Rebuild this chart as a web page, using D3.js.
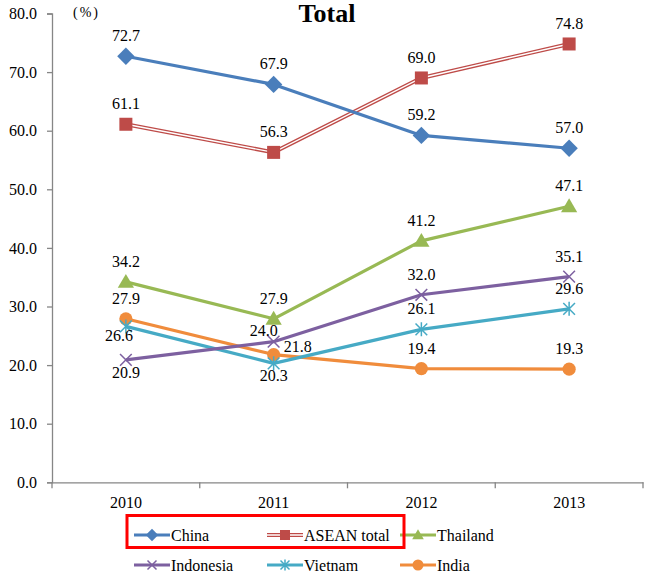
<!DOCTYPE html>
<html><head><meta charset="utf-8">
<script src="https://cdn.jsdelivr.net/npm/d3@7"></script>
<style>
html,body{margin:0;padding:0;background:#fff;}
svg{display:block;}
svg text{font-family:"Liberation Serif","Times New Roman",serif !important;fill:#000;}
</style></head>
<body>
<svg id="c" width="653" height="577" font-family="Liberation Serif"></svg>
<script>
const years = ["2010","2011","2012","2013"];
const yTicks = [0,10,20,30,40,50,60,70,80];
const china     = [72.7, 67.9, 59.2, 57.0];
const asean     = [61.1, 56.3, 69.0, 74.8];
const thailand  = [34.2, 27.9, 41.2, 47.1];
const indonesia = [20.9, 24.0, 32.0, 35.1];
const vietnam   = [26.6, 20.3, 26.1, 29.6];
const india     = [27.9, 21.8, 19.4, 19.3];
const seriesNames = ["China","ASEAN total","Thailand","Indonesia","Vietnam","India"];
const seriesValues = [china, asean, thailand, indonesia, vietnam, india];
// label placement codes: a=above, b=below, r=right, l=above-left, s=slightly below
const labelPos = [
  ["a","a","a","a"],
  ["a","a","a","a"],
  ["a","a","a","a"],
  ["b","l","a","a"],
  ["s","b","a","a"],
  ["a","r","a","a"]
];
const colors = ["#4A7EBB","#BE4B48","#98B954","#7D60A0","#46AAC5","#F08C3C"];
const markers = ["diamond","square","triangle","x","star","circle"];

const svg = d3.select("#c");
const mLeft = 52, mRight = 643, mTop = 13.5, mBottom = 482.3;
const x = d3.scaleBand().domain(years).range([mLeft, mRight]);
const y = d3.scaleLinear().domain([0,80]).range([mBottom, mTop]);
const axisColor = "#868686";

// Y axis
const ya = svg.append("g").attr("transform",`translate(${mLeft},0)`)
  .call(d3.axisLeft(y).tickValues(yTicks).tickSize(5).tickPadding(10).tickFormat(d3.format(".1f")));
ya.attr("font-family","Liberation Serif").attr("font-size",16);
ya.select(".domain").attr("stroke",axisColor).attr("stroke-width",1.3);
ya.selectAll(".tick line").attr("stroke",axisColor).attr("stroke-width",1.3);
ya.selectAll(".tick text").style("font-size","16px");

// X axis
const xa = svg.append("g").attr("transform",`translate(0,${mBottom})`)
  .call(d3.axisBottom(x).tickSize(0).tickPadding(14));
xa.attr("font-family","Liberation Serif").attr("font-size",16);
xa.select(".domain").attr("stroke",axisColor).attr("stroke-width",1.3);
xa.selectAll(".tick text").style("font-size","16px");
const bounds = [mLeft].concat(years.map(d => x(d) + x.bandwidth()));
svg.append("g").selectAll("line").data(bounds).join("line")
  .attr("x1",d=>d).attr("x2",d=>d).attr("y1",mBottom).attr("y2",mBottom+6)
  .attr("stroke",axisColor).attr("stroke-width",1.3);

// title and unit
svg.append("text").attr("x",327).attr("y",22).attr("text-anchor","middle")
  .style("font-size","26px").style("font-weight","bold").text("Total");
svg.append("text").attr("x",73).attr("y",17).style("font-size","14px")
  .style("letter-spacing","2px").text("(%)");

const cx = d => x(d) + x.bandwidth()/2;

function drawMarker(g, type, px, py, color, s) {
  if (type === "diamond") {
    g.append("path").attr("d",`M${px},${py-s*0.62}L${px+s*0.62},${py}L${px},${py+s*0.62}L${px-s*0.62},${py}Z`).attr("fill",color);
  } else if (type === "square") {
    g.append("rect").attr("x",px-s/2).attr("y",py-s/2).attr("width",s).attr("height",s).attr("fill",color);
  } else if (type === "triangle") {
    const h = s*0.95;
    g.append("path").attr("d",`M${px},${py-h*0.6}L${px+s*0.58},${py+h*0.45}L${px-s*0.58},${py+h*0.45}Z`).attr("fill",color);
  } else if (type === "x") {
    const r = s*0.45;
    g.append("path").attr("d",`M${px-r},${py-r}L${px+r},${py+r}M${px-r},${py+r}L${px+r},${py-r}`).attr("stroke",color).attr("stroke-width",1.5).attr("fill","none");
  } else if (type === "star") {
    const r = s*0.45;
    g.append("path").attr("d",`M${px-r},${py-r}L${px+r},${py+r}M${px-r},${py+r}L${px+r},${py-r}M${px},${py-r*1.2}L${px},${py+r*1.2}`).attr("stroke",color).attr("stroke-width",1.5).attr("fill","none");
  } else if (type === "circle") {
    g.append("circle").attr("cx",px).attr("cy",py).attr("r",s*0.55).attr("fill",color);
  }
}

const line = d3.line().x((d,i)=>cx(years[i])).y(d=>y(d));
const markerSize = [14, 13, 14, 13, 13, 12];

const order = [5,4,3,2,1,0];
const plot = svg.append("g");
order.forEach(k => {
  const vals = seriesValues[k];
  const g = plot.append("g");
  if (k === 1) {
    g.append("path").attr("d",line(vals)).attr("fill","none").attr("stroke",colors[k]).attr("stroke-width",4);
    g.append("path").attr("d",line(vals)).attr("fill","none").attr("stroke","#fff").attr("stroke-width",1.4);
  } else {
    g.append("path").attr("d",line(vals)).attr("fill","none").attr("stroke",colors[k]).attr("stroke-width",3.2).attr("stroke-linejoin","round");
  }
  vals.forEach((v,i) => drawMarker(g, markers[k], cx(years[i]), y(v), colors[k], markerSize[k]));
});

// labels
const labels = svg.append("g");
seriesValues.forEach((vals,k) => {
  vals.forEach((v,i) => {
    const p = labelPos[k][i];
    let px = cx(years[i]), py = y(v);
    let tx = px, ty = py - 15, anchor = "middle";
    if (p === "b") { ty = py + 18; }
    if (p === "s") { ty = py + 15; tx = px - 7; }
    if (p === "l") { ty = py - 6; tx = px - 10; }
    if (p === "r") { ty = py - 3; tx = px + 10; anchor = "start"; }
    labels.append("text").attr("x",tx).attr("y",ty).attr("text-anchor",anchor)
      .style("font-size","16px").text(d3.format(".1f")(v));
  });
});

// legend
const legend = svg.append("g");
const colX = [134, 267, 400];
const rowY = [535, 565];
seriesNames.forEach((n,k) => {
  const lx = colX[k%3], ly = rowY[Math.floor(k/3)];
  const g = legend.append("g");
  if (k === 1) {
    g.append("line").attr("x1",lx).attr("x2",lx+36).attr("y1",ly).attr("y2",ly).attr("stroke",colors[k]).attr("stroke-width",4);
    g.append("line").attr("x1",lx).attr("x2",lx+36).attr("y1",ly).attr("y2",ly).attr("stroke","#fff").attr("stroke-width",1.4);
  } else {
    g.append("line").attr("x1",lx).attr("x2",lx+36).attr("y1",ly).attr("y2",ly).attr("stroke",colors[k]).attr("stroke-width",3.2);
  }
  drawMarker(g, markers[k], lx+18, ly, colors[k], 10);
  g.append("text").attr("x",lx+37).attr("y",ly+5.5).style("font-size","16px").text(n);
});
// red highlight box
svg.append("rect").attr("x",127).attr("y",515.5).attr("width",277).attr("height",32)
  .attr("fill","none").attr("stroke","#FF0000").attr("stroke-width",3);
</script>
</body></html>
